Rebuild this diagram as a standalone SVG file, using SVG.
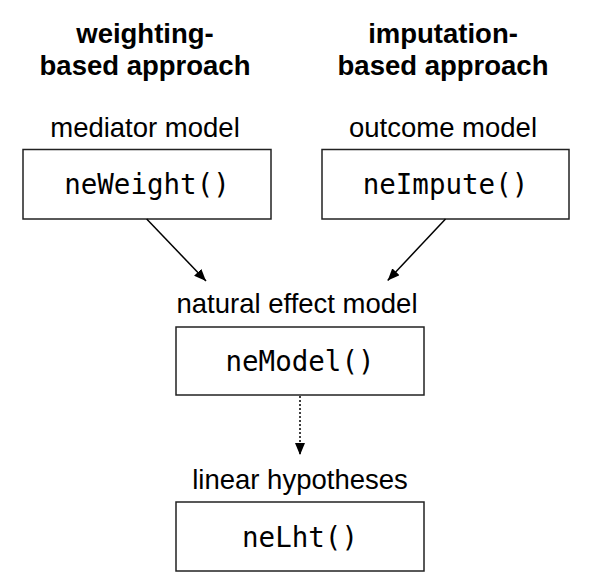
<svg xmlns="http://www.w3.org/2000/svg" width="606" height="583" viewBox="0 0 606 583">
<style>
.h{font-family:"Liberation Sans",Arial,sans-serif;font-size:27.5px;font-weight:bold;text-anchor:middle;fill:#000}
.l{font-family:"Liberation Sans",Arial,sans-serif;font-size:27.5px;text-anchor:middle;fill:#000}
.c{font-family:"DejaVu Sans Mono",monospace;font-size:27.5px;text-anchor:middle;fill:#000}
.box{fill:#fff;stroke:#222;stroke-width:1.5}
.e{stroke:#000;stroke-width:1.5;fill:none}
</style>
<defs>
<marker id="ah" viewBox="0 0 12 10" refX="12" refY="5" markerWidth="12" markerHeight="10" markerUnits="userSpaceOnUse" orient="auto">
<path d="M0,0 L12,5 L0,10 z" fill="#000"/>
</marker>
</defs>
<rect width="606" height="583" fill="#fff"/>
<g id="titles">
<text class="h" x="145" y="43">weighting-</text>
<text class="h" x="145" y="75">based approach</text>
<text class="h" x="443" y="43">imputation-</text>
<text class="h" x="443" y="75">based approach</text>
</g>
<g id="neWeight">
<text class="l" x="145" y="137">mediator model</text>
<rect class="box" x="23" y="149.5" width="248" height="69.5"/>
<text class="c" x="147" y="194">neWeight()</text>
</g>
<g id="neImpute">
<text class="l" x="443" y="137">outcome model</text>
<rect class="box" x="322" y="149.5" width="247" height="69.5"/>
<text class="c" x="445.5" y="194">neImpute()</text>
</g>
<g id="neModel">
<text class="l" x="297" y="313">natural effect model</text>
<rect class="box" x="176" y="327" width="248" height="68"/>
<text class="c" x="300" y="371">neModel()</text>
</g>
<g id="neLht">
<text class="l" x="300" y="489">linear hypotheses</text>
<rect class="box" x="176" y="502" width="248" height="69"/>
<text class="c" x="300" y="547">neLht()</text>
</g>
<g id="connectors">
<line class="e" x1="146.7" y1="219" x2="206" y2="281" marker-end="url(#ah)"/>
<line class="e" x1="445.5" y1="219" x2="387.7" y2="280.5" marker-end="url(#ah)"/>
<line class="e" x1="300" y1="396" x2="300" y2="455" stroke-dasharray="2,2" marker-end="url(#ah)"/>
</g>
</svg>
